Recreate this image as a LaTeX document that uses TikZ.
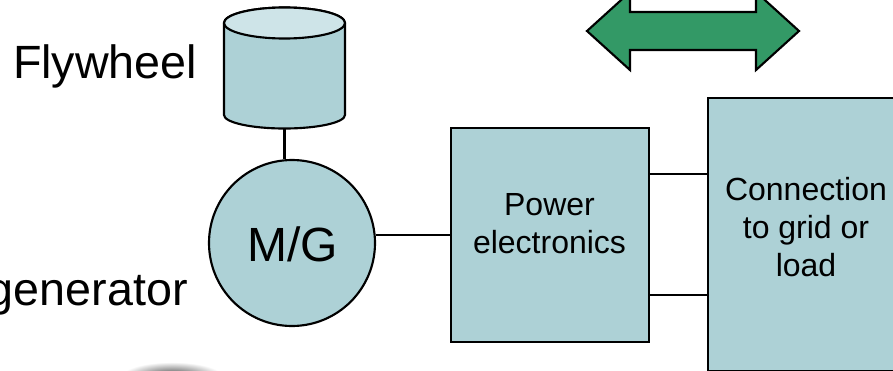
\documentclass[tikz,border=0pt]{standalone}
\usepackage{fontspec}
\setmainfont{Liberation Sans}
\definecolor{boxblue}{RGB}{173,209,214}
\definecolor{topblue}{RGB}{206,228,232}
\definecolor{arrowgreen}{RGB}{51,153,102}
\tikzset{
    unit/.style={draw, fill=boxblue, line width=1.6pt, inner sep=0pt},
    wire/.style={line width=1.6pt},
    smalltext/.style={align=center, font=\fontsize{24}{28.5}\selectfont, inner sep=0pt},
    bigtext/.style={font=\fontsize{35}{40}\selectfont, inner sep=0pt}
}
\begin{document}
\begin{tikzpicture}[x=0.75pt,y=-0.75pt]
    \useasboundingbox (0,0) rectangle (893,371);

    %the smudge at the bottom
    \shade [inner color=black!75, outer color=white] (172,376) ellipse [x radius=50, y radius=14];

    %the flywheel
    \draw [unit] (224,23) -- (224,115) arc [start angle=180, end angle=0, x radius=60.5, y radius=13.5] -- (345,23) arc [start angle=0, end angle=-180, x radius=60.5, y radius=15.5] -- cycle;
    \draw [unit, fill=topblue] (284.5,23) ellipse [x radius=60.5, y radius=15.5];
    \coordinate (flywheel) at (284.5,128.5);

    %the parts
    \node [unit, circle, minimum size=124.5pt] (mg) at (292,243) {};
    \node [bigtext, font=\fontsize{36}{40}\selectfont] (mgtext) at (292.5,244) {M/G};
    \node [unit, minimum width=148.5pt, minimum height=160.5pt] (power) at (550,235) {};
    \node [smalltext] (powertext) at (549.5,224) {Power\\electronics};
    \node [unit, minimum width=205pt, minimum height=204.5pt, anchor=north west] (grid) at (707,97) {};
    \node [smalltext] (gridtext) at (806,227) {Connection\\to grid or\\load};

    \node [bigtext, anchor=base east] (flylabel) at (197.5,78) {Flywheel};
    \node [bigtext, anchor=base east] (genlabel) at (188,305) {generator};

    %the arrow, its top is cut off
    \draw [fill=arrowgreen, line width=1.6pt] (587,31) -- (630,-8) -- (630,12) -- (756,12) -- (756,-8) -- (799,31) -- (756,70) -- (756,50) -- (630,50) -- (630,70) -- cycle;

    %the connections
    \draw [wire] (flywheel) -- (mg.north -| flywheel);
    \draw [wire] (mg.east |- power.west) -- (power.west);
    \coordinate (upper) at (power.east |- 0,174);
    \coordinate (lower) at (power.east |- 0,295);
    \draw [wire] (upper) -- (upper -| grid.west);
    \draw [wire] (lower) -- (lower -| grid.west);
\end{tikzpicture}
\end{document}
